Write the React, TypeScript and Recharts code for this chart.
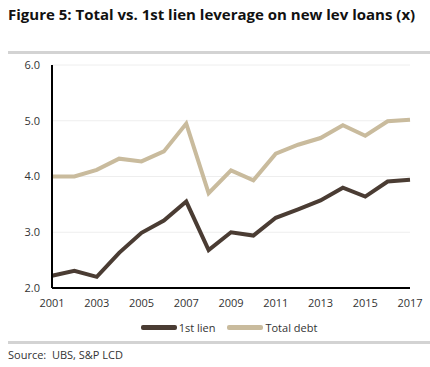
import React from "react";
import { LineChart, Line, XAxis, YAxis, CartesianGrid, Legend } from "recharts";

const years = [2001, 2002, 2003, 2004, 2005, 2006, 2007, 2008, 2009, 2010, 2011, 2012, 2013, 2014, 2015, 2016, 2017];
const firstLien = [2.22, 2.31, 2.2, 2.63, 2.99, 3.21, 3.55, 2.68, 3.0, 2.94, 3.26, 3.41, 3.57, 3.8, 3.64, 3.91, 3.94];
const totalDebt = [4.0, 4.0, 4.12, 4.32, 4.27, 4.45, 4.95, 3.7, 4.11, 3.93, 4.41, 4.57, 4.69, 4.92, 4.73, 4.99, 5.02];
const xTicks = [2001, 2003, 2005, 2007, 2009, 2011, 2013, 2015, 2017];
const yTicks = [2, 3, 4, 5, 6];

const FONT = "'Open Sans', sans-serif";
const DARK = "#4a3c33";
const BEIGE = "#c9bb9d";

const data = years.map((y, i) => ({ year: y, lien: firstLien[i], total: totalDebt[i] }));

const legendItems = [
  { label: "1st lien", color: DARK },
  { label: "Total debt", color: BEIGE },
];

// swatch + label, shifted to sit under the plot centre like the original
const renderLegend = () => (
  <div
    style={{
      display: "flex",
      justifyContent: "center",
      paddingLeft: 60,
      paddingTop: 2,
      fontFamily: FONT,
      fontSize: 11,
      color: "#333",
    }}
  >
    {legendItems.map((it) => (
      <div key={it.label} style={{ display: "flex", alignItems: "center", marginRight: 12 }}>
        <span style={{ display: "inline-block", width: 36, height: 5, background: it.color, borderRadius: 2, marginRight: 2 }} />
        <span>{it.label}</span>
      </div>
    ))}
  </div>
);

export default function App() {
  return (
    <div style={{ position: "absolute", left: 0, top: 0, width: 430, height: 367, background: "#fff" }}>
      <div
        style={{
          position: "absolute",
          left: 8,
          top: 4,
          fontFamily: FONT,
          fontWeight: 700,
          fontSize: 15,
          color: "#111",
          whiteSpace: "nowrap",
        }}
      >
        Figure 5: Total vs. 1st lien leverage on new lev loans (x)
      </div>
      <div style={{ position: "absolute", left: 8, top: 51, width: 422, height: 3, background: "#d3d3d3" }} />
      <div style={{ position: "absolute", left: 0, top: 0 }}>
        <LineChart width={430} height={340} data={data} margin={{ top: 65, right: 20, left: 0, bottom: 0 }}>
          <CartesianGrid horizontal vertical={false} stroke="#eeeeee" />
          <XAxis
            dataKey="year"
            type="number"
            domain={[2001, 2017]}
            ticks={xTicks}
            interval={0}
            axisLine={{ stroke: "#000", strokeWidth: 2 }}
            tickLine={false}
            tick={{ fill: "#333", fontSize: 11, fontFamily: FONT }}
            tickMargin={5}
            height={30}
          />
          <YAxis
            type="number"
            domain={[2, 6]}
            ticks={yTicks}
            interval={0}
            width={52}
            tickFormatter={(v: number) => v.toFixed(1)}
            axisLine={{ stroke: "#000", strokeWidth: 2 }}
            tickLine={false}
            tick={{ fill: "#333", fontSize: 11, fontFamily: FONT }}
            tickMargin={6}
          />
          <Legend verticalAlign="bottom" height={22} content={renderLegend} />
          <Line
            type="linear"
            dataKey="lien"
            name="1st lien"
            stroke={DARK}
            strokeWidth={4}
            dot={false}
            isAnimationActive={false}
          />
          <Line
            type="linear"
            dataKey="total"
            name="Total debt"
            stroke={BEIGE}
            strokeWidth={4}
            dot={false}
            isAnimationActive={false}
          />
        </LineChart>
      </div>
      <div style={{ position: "absolute", left: 8, top: 341, width: 422, height: 3, background: "#d3d3d3" }} />
      <div
        style={{ position: "absolute", left: 8, top: 347, fontFamily: FONT, fontSize: 11, color: "#333", whiteSpace: "nowrap" }}
      >
        Source:&nbsp; UBS, S&amp;P LCD
      </div>
    </div>
  );
}
